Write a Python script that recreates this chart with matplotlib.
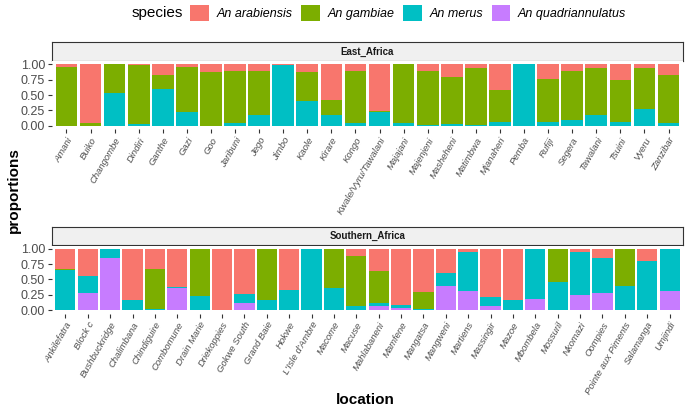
import numpy as np
import matplotlib
matplotlib.use("Agg")
import matplotlib.pyplot as plt
from matplotlib.patches import Patch

plt.rcParams['font.family'] = ['Liberation Sans', 'DejaVu Sans']

# ==== data (proportions) ====
species = ["An arabiensis", "An gambiae", "An merus", "An quadriannulatus"]
colors = ["#F8766D", "#7CAE00", "#00BFC4", "#C77CFF"]

east_locations = ["Amani", "Buiko", "Changombe", "Dindiri", "Ganthe", "Gazi", "Goo",
                  "Jaribuni", "Jego", "Jimbo", "Kaole", "Kirare", "Kongo",
                  "Kwale/Vyru/Tawalani", "Majajani", "Majenjeni", "Masheheni",
                  "Matimbwa", "Mjanaheri", "Pemba", "Rufiji", "Segera", "Tawalani",
                  "Tsuini", "Vyeru", "Zanzibar"]
east_quadri = [0] * 26
east_merus = [0, 0, 0.535, 0.03, 0.60, 0.22, 0, 0.05, 0.18, 0.99, 0.405, 0.17, 0.045,
              0.22, 0.04, 0.015, 0.03, 0.015, 0.07, 1.0, 0.07, 0.10, 0.17, 0.07, 0.275, 0.045]
east_gambiae = [0.95, 0.05, 0.465, 0.955, 0.23, 0.735, 0.875, 0.835, 0.71, 0, 0.47, 0.245,
                0.845, 0.02, 0.96, 0.875, 0.755, 0.915, 0.515, 0, 0.69, 0.79, 0.76, 0.68,
                0.655, 0.785]
east_arabiensis = [0.05, 0.95, 0, 0.015, 0.17, 0.045, 0.125, 0.115, 0.11, 0.01, 0.125,
                   0.585, 0.11, 0.76, 0, 0.11, 0.215, 0.07, 0.415, 0, 0.24, 0.11, 0.07,
                   0.25, 0.07, 0.17]

south_locations = ["Ankilefatra", "Block c", "Bushbuckridge", "Chalimbana", "Chindiguire",
                   "Combomune", "Drain Marie", "Driekoppies", "Gokwe South", "Grand Baie",
                   "Hokwe", "L'Isle d'Ambre", "Macome", "Macuse", "Mahlabaneni", "Mamfene",
                   "Mangatsa", "Mangweni", "Martiens", "Massingir", "Mazoe", "Mbombela",
                   "Mossuril", "Nkomazi", "Oompies", "Pointe aux Piments", "Salamanga",
                   "Umjindi"]
south_quadri = [0, 0.285, 0.85, 0, 0, 0.36, 0, 0, 0.125, 0, 0, 0, 0, 0, 0.07, 0.04, 0,
                0.395, 0.32, 0.065, 0, 0.18, 0, 0.25, 0.285, 0, 0, 0.32]
south_merus = [0.65, 0.27, 0.15, 0.165, 0.02, 0.025, 0.23, 0, 0.135, 0.17, 0.325, 1.0,
               0.36, 0.075, 0.055, 0.045, 0.02, 0.205, 0.625, 0.16, 0.165, 0.82, 0.455,
               0.70, 0.57, 0.395, 0.805, 0.68]
south_gambiae = [0.015, 0, 0, 0, 0.655, 0, 0.77, 0, 0, 0.83, 0, 0, 0.64, 0.805, 0.515, 0,
                 0.27, 0, 0, 0, 0, 0, 0.545, 0, 0, 0.605, 0, 0]
south_arabiensis = [0.335, 0.445, 0, 0.835, 0.325, 0.615, 0, 1.0, 0.74, 0, 0.675, 0, 0,
                    0.12, 0.36, 0.915, 0.71, 0.40, 0.055, 0.775, 0.835, 0, 0, 0.05, 0.145,
                    0, 0.195, 0]

W, H = 685, 411
fig = plt.figure(figsize=(W / 100, H / 100), dpi=100)


def fx(px):
    return px / W


def fy(px):
    return 1 - px / H


def panel(title, locs, stacks, strip_top, strip_bot, ax_bot):
    # strip
    sax = fig.add_axes([fx(52), fy(strip_bot), fx(683) - fx(52), fy(strip_top) - fy(strip_bot)])
    sax.set_facecolor("#F0F0F0")
    sax.set_xticks([])
    sax.set_yticks([])
    for s in sax.spines.values():
        s.set_color("#333333")
        s.set_linewidth(0.8)
    sax.text(0.5, 0.5, title, ha="center", va="center", fontsize=7, fontweight="bold",
             color="#1A1A1A", transform=sax.transAxes)

    ax = fig.add_axes([fx(52), fy(ax_bot), fx(683) - fx(52), fy(strip_bot) - fy(ax_bot)])
    x = np.arange(1, len(locs) + 1)
    bottom = np.zeros(len(locs))
    # bottom to top: quadriannulatus, merus, gambiae, arabiensis
    for vals, col in stacks:
        vals = np.array(vals, dtype=float)
        ax.bar(x, vals, bottom=bottom, width=0.9, color=col, linewidth=0)
        bottom += vals
    ax.set_xlim(0.4, len(locs) + 0.6)
    ax.set_ylim(-0.05, 1.05)
    ax.set_yticks([0, 0.25, 0.5, 0.75, 1.0])
    ax.set_yticklabels(["0.00", "0.25", "0.50", "0.75", "1.00"], fontsize=9, color="#4D4D4D")
    ax.set_xticks(x)
    ax.set_xticklabels(locs, rotation=60, ha="right", rotation_mode="anchor",
                       fontsize=6.8, style="italic", color="#4D4D4D")
    ax.tick_params(length=3, width=0.8, color="#333333", pad=2)
    for s in ax.spines.values():
        s.set_visible(False)
    return ax


panel("East_Africa", east_locations,
      [(east_quadri, colors[3]), (east_merus, colors[2]),
       (east_gambiae, colors[1]), (east_arabiensis, colors[0])],
      42, 61, 129)
panel("Southern_Africa", south_locations,
      [(south_quadri, colors[3]), (south_merus, colors[2]),
       (south_gambiae, colors[1]), (south_arabiensis, colors[0])],
      227, 245.5, 313.5)

# legend on top
fig.text(fx(183), fy(13), "species", ha="right", va="center", fontsize=11)
handles = [Patch(facecolor=c, edgecolor="none") for c in colors]
leg = fig.legend(handles, species, loc="center left", bbox_to_anchor=(fx(190), fy(13)),
                 ncol=4, frameon=False, handlelength=1.5, handleheight=1.5,
                 handletextpad=0.6, columnspacing=0.7, borderpad=0, borderaxespad=0,
                 prop={"size": 9, "style": "italic"})

fig.text(fx(14), fy(190), "proportions", rotation=90, ha="center", va="center",
         fontsize=11, fontweight="bold")
fig.text(fx(365), fy(400), "location", ha="center", va="center",
         fontsize=11, fontweight="bold")

fig.savefig("out.png", dpi=100)
